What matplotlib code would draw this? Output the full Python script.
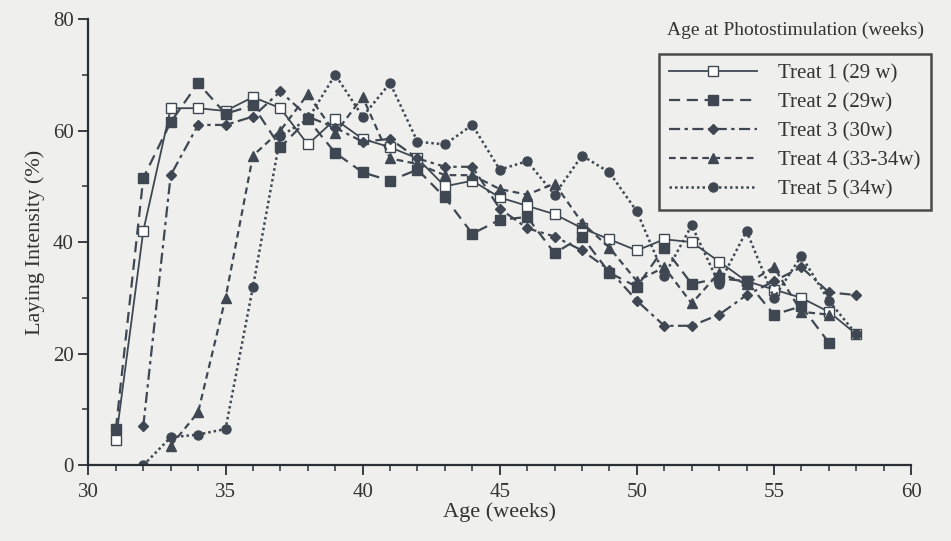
import matplotlib
matplotlib.use("Agg")
import matplotlib.pyplot as plt
from matplotlib.ticker import MultipleLocator

plt.rcParams['font.family'] = ['Liberation Serif', 'DejaVu Serif']

# Data (weeks of age, laying intensity %)
t1_weeks = list(range(31, 59))
t1_vals = [4.5, 42, 64, 64, 63.5, 66, 64, 57.5, 62, 58.5, 57, 55, 50, 51, 48, 46.5,
           45, 42.5, 40.5, 38.5, 40.5, 40, 36.5, 33, 31.5, 30, 27.5, 23.5]

t2_weeks = list(range(31, 58))
t2_vals = [6.5, 51.5, 61.5, 68.5, 63, 64.5, 57, 62, 56, 52.5, 51, 53, 48, 41.5, 44,
           44.5, 38, 41, 34.5, 32, 39, 32.5, 33.5, 33, 27, 28.5, 22]

t3_weeks = list(range(32, 59))
t3_vals = [7, 52, 61, 61, 62.5, 67, 62.5, 60.5, 58, 58.5, 55, 53.5, 53.5, 46, 42.5,
           41, 38.5, 35, 29.5, 25, 25, 27, 30.5, 33, 35.5, 31, 30.5]

t4_weeks = list(range(33, 58))
t4_vals = [3.5, 9.5, 30, 55.5, 60, 66.5, 59.5, 66, 55, 54, 52, 52, 49.5, 48.5, 50.5,
           43.5, 39, 33, 35.5, 29, 34.5, 32.5, 35.5, 27.5, 27]

t5_weeks = list(range(32, 59))
t5_vals = [0, 5, 5.5, 6.5, 32, 59, 62, 70, 62.5, 68.5, 58, 57.5, 61, 53, 54.5, 48.5,
           55.5, 52.5, 45.5, 34, 43, 32.5, 42, 30, 37.5, 29.5, 23.5]

labels = ["Treat 1 (29 w)", "Treat 2 (29w)", "Treat 3 (30w)", "Treat 4 (33-34w)", "Treat 5 (34w)"]

ink = '#3f4852'
bg = '#efefed'

fig = plt.figure(figsize=(9.51, 5.41), dpi=100, facecolor=bg)
ax = fig.add_axes([0.093, 0.14, 0.865, 0.825], facecolor=bg)

series = [
    (t1_weeks, t1_vals, dict(linestyle='-', marker='s', mfc='white', ms=6.5, lw=1.3)),
    (t2_weeks, t2_vals, dict(linestyle=(0, (5, 3)), marker='s', mfc=ink, ms=6.5, lw=1.6)),
    (t3_weeks, t3_vals, dict(linestyle=(0, (5, 2, 1.5, 2)), marker='D', mfc=ink, ms=5, lw=1.6)),
    (t4_weeks, t4_vals, dict(linestyle=(0, (3, 2)), marker='^', mfc=ink, ms=6.5, lw=1.6)),
    (t5_weeks, t5_vals, dict(linestyle=(0, (1, 1.2)), marker='o', mfc=ink, ms=6.5, lw=1.8)),
]
for (w, v, st), lab in zip(series, labels):
    ax.plot(w, v, color=ink, mec=ink, label=lab, **st)

ax.set_xlim(30, 60)
ax.set_ylim(0, 80)
ax.xaxis.set_major_locator(MultipleLocator(5))
ax.xaxis.set_minor_locator(MultipleLocator(1))
ax.yaxis.set_major_locator(MultipleLocator(20))
ax.yaxis.set_minor_locator(MultipleLocator(10))
for s in ['top', 'right']:
    ax.spines[s].set_visible(False)
for s in ['left', 'bottom']:
    ax.spines[s].set_color('#2a2f36')
    ax.spines[s].set_linewidth(1.6)
ax.tick_params(which='major', direction='out', length=7, width=1.3, colors='#2a2f36',
               labelsize=15, labelcolor='#333333')
ax.tick_params(which='minor', direction='out', length=4, width=1.1, colors='#2a2f36')
ax.tick_params(axis='x', pad=6)

ax.set_xlabel("Age (weeks)", fontsize=16, color='#333333', labelpad=0)
ax.set_ylabel("Laying Intensity (%)", fontsize=16, color='#333333', labelpad=6)

leg = fig.legend(loc='upper left', bbox_to_anchor=(0.682, 0.92), fontsize=15,
                 frameon=True, fancybox=False, edgecolor='#222222', facecolor=bg,
                 handlelength=4.2, handletextpad=1.0, borderpad=0.5, labelspacing=0.45)
leg.get_frame().set_linewidth(1.8)
for t in leg.get_texts():
    t.set_color('#333333')

fig.text(0.836, 0.928, "Age at Photostimulation (weeks)", ha='center', va='bottom',
         fontsize=14, color='#333333')

fig.savefig("out.png", dpi=100, facecolor=bg)
